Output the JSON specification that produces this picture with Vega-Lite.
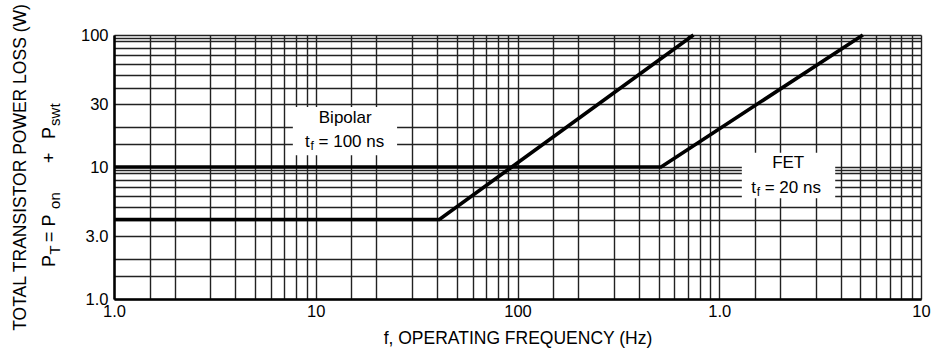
{
  "$schema": "https://vega.github.io/schema/vega-lite/v6.json",
  "width": 807,
  "height": 264,
  "autosize": {"type": "none"},
  "padding": {"left": 114, "top": 35, "right": 14, "bottom": 59},
  "background": "white",
  "config": {"font": "Liberation Sans", "view": {"stroke": null}},
  "datasets": {
    "curves": [
      {"device": "Bipolar", "f": 1, "p": 4},
      {"device": "Bipolar", "f": 41, "p": 4},
      {"device": "Bipolar", "f": 745, "p": 100},
      {"device": "FET", "f": 1, "p": 10},
      {"device": "FET", "f": 515, "p": 10},
      {"device": "FET", "f": 5150, "p": 100}
    ],
    "boxes": [
      {"label": "Bipolar", "x1": 7.7, "x2": 25.3, "y1": 12.3, "y2": 28.5},
      {"label": "FET", "x1": 1294, "x2": 3756, "y1": 5.8, "y2": 12.8}
    ],
    "labels": [
      {"part": "name", "text": "Bipolar", "f": 14, "p": 23.5},
      {"part": "name", "text": "FET", "f": 2196, "p": 10.7},
      {"part": "t", "text": "t", "f": 8.85, "p": 15.5},
      {"part": "sub", "text": "f", "f": 8.85, "p": 15.5},
      {"part": "rest", "text": "= 100 ns", "f": 8.85, "p": 15.5},
      {"part": "t", "text": "t", "f": 1439, "p": 6.9},
      {"part": "sub", "text": "f", "f": 1439, "p": 6.9},
      {"part": "rest", "text": "= 20 ns", "f": 1439, "p": 6.9}
    ],
    "formula": [
      {"part": "P1", "text": "P", "f": 0.51, "p": 1.75},
      {"part": "T", "text": "T", "f": 0.51, "p": 1.75},
      {"part": "P2", "text": "=  P", "f": 0.51, "p": 1.75},
      {"part": "on", "text": "on", "f": 0.51, "p": 1.75},
      {"part": "P3", "text": "+", "f": 0.51, "p": 1.75},
      {"part": "P4", "text": "P", "f": 0.51, "p": 1.75},
      {"part": "swt", "text": "swt", "f": 0.51, "p": 1.75}
    ]
  },
  "layer": [
    {
      "data": {"name": "boxes"},
      "mark": {"type": "rect", "fill": "white", "stroke": null},
      "encoding": {
        "x": {
          "field": "x1", "type": "quantitative",
          "scale": {"type": "log", "domain": [1, 10000], "nice": false},
          "axis": {
            "title": "f, OPERATING FREQUENCY (Hz)",
            "titleFontSize": 17.5, "titleFontWeight": "normal", "titleColor": "black", "titlePadding": 10,
            "labelFontSize": 16.5, "labelColor": "black", "labelPadding": 4,
            "labelOverlap": false, "labelFlush": false, "labelBound": false,
            "ticks": false,
            "domainColor": "black", "domainWidth": 2.5,
            "grid": true, "gridColor": "#222222", "gridWidth": 1.4, "gridOpacity": 1,
            "values": [1,1.5,2,3,4,5,6,7,8,9,10,15,20,30,40,50,60,70,80,90,100,150,200,300,400,500,600,700,800,900,1000,1500,2000,3000,4000,5000,6000,7000,8000,9000,10000],
            "labelExpr": "datum.value == 1 || datum.value == 1000 ? '1.0' : (datum.value == 10 || datum.value == 10000 ? '10' : (datum.value == 100 ? '100' : ''))"
          }
        },
        "x2": {"field": "x2"},
        "y": {
          "field": "y1", "type": "quantitative",
          "scale": {"type": "log", "domain": [1, 100], "nice": false},
          "axis": {
            "title": "TOTAL TRANSISTOR POWER LOSS (W)",
            "titleFontSize": 17.5, "titleFontWeight": "normal", "titleColor": "black",
            "titleAngle": 270, "titleX": -94, "titleY": 132, "titleAlign": "center", "titleBaseline": "middle",
            "labelFontSize": 16.5, "labelColor": "black", "labelPadding": 6,
            "labelOverlap": false, "labelFlush": false, "labelBound": false,
            "ticks": false,
            "domainColor": "black", "domainWidth": 2.5,
            "grid": true, "gridColor": "#222222", "gridWidth": 1.4, "gridOpacity": 1,
            "values": [1,1.5,2,3,4,5,6,7,8,9,9.5,10,15,20,30,40,50,60,70,80,90,95,100],
            "labelExpr": "datum.value == 1 ? '1.0' : (datum.value == 3 ? '3.0' : (datum.value == 10 ? '10' : (datum.value == 30 ? '30' : (datum.value == 100 ? '100' : ''))))"
          }
        },
        "y2": {"field": "y2"}
      }
    },
    {
      "data": {"name": "curves"},
      "mark": {"type": "line", "color": "black", "strokeWidth": 3.6, "strokeCap": "butt"},
      "encoding": {
        "x": {"field": "f", "type": "quantitative"},
        "y": {"field": "p", "type": "quantitative"},
        "detail": {"field": "device"},
        "order": {"field": "f", "type": "quantitative"}
      }
    },
    {
      "data": {"name": "labels"},
      "transform": [{"filter": "datum.part == 'name'"}],
      "mark": {"type": "text", "fontSize": 17, "color": "black", "align": "center", "baseline": "middle"},
      "encoding": {"x": {"field": "f", "type": "quantitative"}, "y": {"field": "p", "type": "quantitative"}, "text": {"field": "text"}}
    },
    {
      "data": {"name": "labels"},
      "transform": [{"filter": "datum.part == 't'"}],
      "mark": {"type": "text", "fontSize": 17, "color": "black", "align": "left", "baseline": "middle"},
      "encoding": {"x": {"field": "f", "type": "quantitative"}, "y": {"field": "p", "type": "quantitative"}, "text": {"field": "text"}}
    },
    {
      "data": {"name": "labels"},
      "transform": [{"filter": "datum.part == 'sub'"}],
      "mark": {"type": "text", "fontSize": 12, "color": "black", "align": "left", "baseline": "middle", "dx": 5.5, "dy": 4},
      "encoding": {"x": {"field": "f", "type": "quantitative"}, "y": {"field": "p", "type": "quantitative"}, "text": {"field": "text"}}
    },
    {
      "data": {"name": "labels"},
      "transform": [{"filter": "datum.part == 'rest'"}],
      "mark": {"type": "text", "fontSize": 17, "color": "black", "align": "left", "baseline": "middle", "dx": 13.5},
      "encoding": {"x": {"field": "f", "type": "quantitative"}, "y": {"field": "p", "type": "quantitative"}, "text": {"field": "text"}}
    },
    {
      "data": {"name": "formula"},
      "transform": [{"filter": "datum.part == 'P1'"}],
      "mark": {"type": "text", "fontSize": 18, "color": "black", "align": "left", "baseline": "alphabetic", "angle": 270},
      "encoding": {"x": {"field": "f", "type": "quantitative"}, "y": {"field": "p", "type": "quantitative"}, "text": {"field": "text"}}
    },
    {
      "data": {"name": "formula"},
      "transform": [{"filter": "datum.part == 'T'"}],
      "mark": {"type": "text", "fontSize": 15, "color": "black", "align": "left", "baseline": "alphabetic", "angle": 270, "dx": 12.5, "dy": 5},
      "encoding": {"x": {"field": "f", "type": "quantitative"}, "y": {"field": "p", "type": "quantitative"}, "text": {"field": "text"}}
    },
    {
      "data": {"name": "formula"},
      "transform": [{"filter": "datum.part == 'P2'"}],
      "mark": {"type": "text", "fontSize": 18, "color": "black", "align": "left", "baseline": "alphabetic", "angle": 270, "dx": 25},
      "encoding": {"x": {"field": "f", "type": "quantitative"}, "y": {"field": "p", "type": "quantitative"}, "text": {"field": "text"}}
    },
    {
      "data": {"name": "formula"},
      "transform": [{"filter": "datum.part == 'on'"}],
      "mark": {"type": "text", "fontSize": 15, "color": "black", "align": "left", "baseline": "alphabetic", "angle": 270, "dx": 58, "dy": 5},
      "encoding": {"x": {"field": "f", "type": "quantitative"}, "y": {"field": "p", "type": "quantitative"}, "text": {"field": "text"}}
    },
    {
      "data": {"name": "formula"},
      "transform": [{"filter": "datum.part == 'P3'"}],
      "mark": {"type": "text", "fontSize": 18, "color": "black", "align": "left", "baseline": "alphabetic", "angle": 270, "dx": 104},
      "encoding": {"x": {"field": "f", "type": "quantitative"}, "y": {"field": "p", "type": "quantitative"}, "text": {"field": "text"}}
    },
    {
      "data": {"name": "formula"},
      "transform": [{"filter": "datum.part == 'P4'"}],
      "mark": {"type": "text", "fontSize": 18, "color": "black", "align": "left", "baseline": "alphabetic", "angle": 270, "dx": 128},
      "encoding": {"x": {"field": "f", "type": "quantitative"}, "y": {"field": "p", "type": "quantitative"}, "text": {"field": "text"}}
    },
    {
      "data": {"name": "formula"},
      "transform": [{"filter": "datum.part == 'swt'"}],
      "mark": {"type": "text", "fontSize": 15, "color": "black", "align": "left", "baseline": "alphabetic", "angle": 270, "dx": 141, "dy": 5},
      "encoding": {"x": {"field": "f", "type": "quantitative"}, "y": {"field": "p", "type": "quantitative"}, "text": {"field": "text"}}
    }
  ]
}
